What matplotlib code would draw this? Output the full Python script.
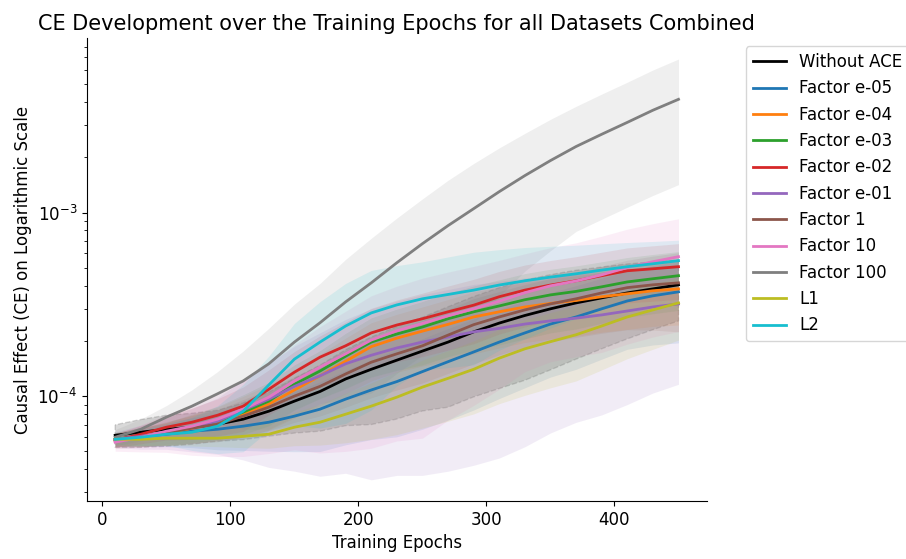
import numpy as np
import matplotlib
matplotlib.use("Agg")
import matplotlib.pyplot as plt

plt.rcParams['font.size'] = 12

# training epochs at which the CE was evaluated
epochs = list(range(10, 451, 20))

# mean CE per setting (in units of 1e-5)
without_ace = [6.12, 6.36, 6.60, 6.77, 7.03, 7.49, 8.28, 9.39, 10.6, 12.4, 14.0, 15.7,
               17.6, 19.7, 22.4, 25.0, 27.5, 29.9, 32.2, 34.3, 36.5, 38.4, 40.4]
factor_e05 = [5.82, 6.04, 6.20, 6.44, 6.60, 6.86, 7.21, 7.78, 8.49, 9.63, 10.8, 12.0,
              13.6, 15.4, 17.4, 19.7, 22.1, 24.7, 27.0, 29.9, 33.0, 35.2, 37.0]
factor_e04 = [5.82, 6.04, 6.28, 6.69, 7.21, 7.97, 9.04, 10.8, 12.9, 15.5, 18.6, 20.7,
              22.6, 24.6, 27.0, 28.8, 30.6, 32.0, 33.2, 34.8, 36.1, 37.5, 38.4]
factor_e03 = [5.82, 6.04, 6.28, 6.77, 7.30, 8.18, 9.39, 11.6, 13.7, 16.5, 19.7, 21.8,
              23.8, 26.4, 28.8, 31.0, 33.5, 35.6, 37.2, 39.4, 41.9, 43.6, 45.3]
factor_e02 = [5.75, 6.20, 6.77, 7.21, 7.87, 8.82, 10.9, 13.5, 16.3, 18.8, 22.1, 24.4,
              26.4, 28.8, 31.3, 34.8, 37.8, 40.3, 42.5, 45.3, 48.2, 49.4, 50.7]
factor_e01 = [5.82, 6.04, 6.36, 6.77, 7.30, 8.39, 9.63, 11.3, 12.9, 15.0, 16.7, 18.3,
              19.7, 21.0, 22.4, 23.4, 24.7, 25.7, 26.6, 27.7, 29.1, 30.6, 31.8]
factor_1 = [5.68, 5.97, 6.36, 6.69, 7.03, 7.78, 8.71, 10.0, 11.3, 13.2, 15.3, 17.0,
            18.8, 21.5, 24.5, 27.0, 29.5, 31.8, 33.9, 36.5, 39.0, 40.4, 41.4]
factor_10 = [5.61, 5.97, 6.44, 6.86, 7.49, 8.49, 9.87, 12.1, 14.4, 17.0, 20.2, 22.7,
             24.9, 27.4, 29.9, 32.9, 36.6, 39.9, 42.4, 45.8, 50.2, 54.0, 57.5]
factor_100 = [5.97, 6.60, 7.68, 8.82, 10.3, 12.1, 15.0, 19.7, 25.1, 32.6, 41.4, 53.3,
              67.7, 84.9, 105, 130, 159, 192, 229, 267, 310, 361, 414]
l1 = [5.82, 5.82, 5.90, 5.90, 5.90, 6.04, 6.20, 6.77, 7.21, 7.97, 8.82, 9.87,
      11.2, 12.5, 14.0, 16.1, 18.1, 19.8, 21.6, 24.1, 27.0, 29.5, 32.2]
l2 = [5.82, 5.97, 6.20, 6.36, 6.86, 8.28, 11.5, 15.9, 19.7, 24.1, 28.4, 31.4,
      33.9, 35.8, 37.8, 40.3, 42.5, 44.5, 46.4, 48.6, 50.7, 52.6, 54.7]

# standard deviation per setting (in units of 1e-5)
without_ace_std = [0.86, 1.1, 1.27, 1.3, 1.35, 1.7, 2.23, 3.1, 4.16, 5.5, 7.0, 8.2,
                   9.3, 11.0, 12.5, 14.0, 15.3, 16.0, 16.3, 16.2, 16.0, 15.4, 14.7]
factor_e05_std = [0.5, 0.7, 0.9, 1.2, 1.5, 1.8, 2.2, 2.8, 3.5, 4.2, 5.0, 6.0,
                  7.0, 8.0, 9.0, 10.0, 11.0, 12.0, 13.0, 14.0, 15.0, 16.2, 17.5]
factor_e04_std = [0.5, 0.7, 0.9, 1.2, 1.5, 2.0, 2.5, 3.2, 4.0, 5.2, 6.5, 7.2,
                  8.0, 9.0, 10.0, 10.5, 11.0, 11.5, 12.0, 12.5, 13.0, 13.5, 14.0]
factor_e03_std = [0.5, 0.7, 0.9, 1.2, 1.5, 2.0, 2.5, 3.2, 4.0, 5.5, 7.0, 8.0,
                  9.0, 10.0, 11.0, 12.0, 13.0, 13.5, 14.0, 14.5, 15.0, 15.5, 16.0]
factor_e02_std = [0.5, 0.7, 1.0, 1.4, 1.8, 2.4, 3.0, 4.0, 5.0, 6.5, 8.0, 9.0,
                  10.0, 11.0, 12.0, 13.0, 14.0, 14.5, 15.0, 15.5, 16.0, 16.5, 17.0]
factor_e01_std = [0.56, 0.9, 1.23, 1.8, 2.48, 3.9, 5.54, 7.4, 9.24, 11.2, 13.2, 14.6,
                  16.0, 17.1, 18.2, 18.8, 19.4, 19.4, 19.4, 19.8, 20.1, 20.2, 20.2]
factor_1_std = [0.5, 0.7, 0.9, 1.15, 1.4, 1.8, 2.2, 2.8, 3.5, 4.5, 5.5, 6.2,
                7.0, 8.2, 9.5, 10.2, 11.0, 12.0, 13.0, 14.5, 16.0, 17.5, 19.0]
factor_10_std = [0.6, 1.0, 1.5, 2.1, 2.8, 3.8, 5.0, 7.0, 9.5, 12.0, 15.0, 17.0,
                 19.0, 20.0, 21.0, 22.0, 23.0, 24.5, 26.0, 28.5, 31.0, 33.0, 35.0]
factor_100_std = [0.6, 0.9, 1.2, 2.0, 3.3, 5.5, 8.4, 12.0, 16.0, 23.0, 31.0, 40.0,
                  51.0, 65.0, 80.0, 95.0, 111, 130, 150, 175, 203, 237, 272]
l1_std = [0.4, 0.45, 0.5, 0.55, 0.6, 0.8, 1.0, 1.4, 1.8, 2.4, 3.0, 3.7,
          4.5, 5.2, 6.0, 7.0, 8.0, 8.7, 9.5, 10.2, 11.0, 11.5, 12.0]
l2_std = [0.4, 0.6, 0.8, 1.3, 2.0, 3.3, 5.0, 9.0, 13.0, 17.0, 20.0, 20.0,
          20.0, 21.5, 23.0, 22.5, 22.0, 21.0, 20.0, 19.0, 18.0, 17.0, 16.0]

labels = ['Without ACE', 'Factor e-05', 'Factor e-04', 'Factor e-03', 'Factor e-02',
          'Factor e-01', 'Factor 1', 'Factor 10', 'Factor 100', 'L1', 'L2']
means = [without_ace, factor_e05, factor_e04, factor_e03, factor_e02, factor_e01,
         factor_1, factor_10, factor_100, l1, l2]
stds = [without_ace_std, factor_e05_std, factor_e04_std, factor_e03_std, factor_e02_std,
        factor_e01_std, factor_1_std, factor_10_std, factor_100_std, l1_std, l2_std]
colors = ['black', 'C0', 'C1', 'C2', 'C3', 'C4', 'C5', 'C6', 'C7', 'C8', 'C9']

fig = plt.figure(figsize=(9.06, 5.59), dpi=100)
ax = fig.add_axes([0.096, 0.104, 0.684, 0.828])

x = np.array(epochs)
for m, s, c in zip(means, stds, colors):
    m = np.array(m) * 1e-5
    s = np.array(s) * 1e-5
    if c == 'black':
        # baseline band with a dashed outline
        ax.fill_between(x, m - s, m + s, color='k', alpha=0.15, linestyle='--', linewidth=1)
    else:
        ax.fill_between(x, m - s, m + s, color=c, alpha=0.12, linewidth=0)

for m, c, lab in zip(means, colors, labels):
    ax.plot(x, np.array(m) * 1e-5, color=c, linewidth=2, label=lab)

ax.set_yscale('log')
ax.set_xlabel('Training Epochs')
ax.set_ylabel('Causal Effect (CE) on Logarithmic Scale')
ax.set_title('CE Development over the Training Epochs for all Datasets Combined', fontsize=15)
ax.spines['top'].set_visible(False)
ax.spines['right'].set_visible(False)
ax.legend(bbox_to_anchor=(1.05, 1), loc='upper left')

fig.savefig('out.png', dpi=100)
